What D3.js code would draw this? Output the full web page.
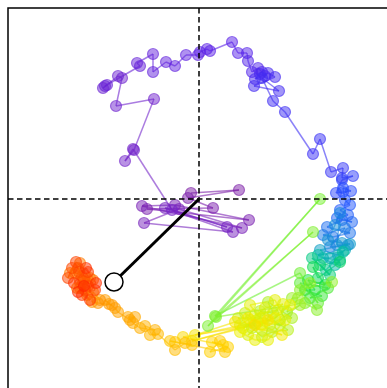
<!DOCTYPE html>
<html>
<head>
<meta charset="utf-8">
<script src="https://cdn.jsdelivr.net/npm/d3@7"></script>
<style>
  html, body { margin: 0; padding: 0; background: #ffffff; }
  svg { display: block; }
</style>
</head>
<body>
<svg id="chart" width="387" height="388"></svg>
<script>
// ---- data (state-space trajectory, in time order) ----
const stateX = [
 -0.08, 0.40,-0.11, 0.14,-0.52, 0.50,-0.24,-0.57, 0.43,-0.20,-0.55, 0.34,-0.34, 0.28,-0.27,
 -0.66,-0.74,-0.65,-0.45,-0.83,-0.77,-0.81,-0.96,-0.92,-0.94,-0.59,-0.62,-0.46,-0.46,-0.33,
 -0.24,-0.13,-0.01, 0.01, 0.08, 0.11, 0.33, 0.39, 0.48, 0.49, 0.53, 0.59, 0.63, 0.66, 0.61,
  0.56, 0.69, 0.76, 0.55, 0.80, 0.63, 0.74, 0.86, 1.14, 1.21, 1.32, 1.44, 1.43, 1.54, 1.43,
  1.37, 1.44, 1.52, 1.44, 1.46, 1.51, 1.41, 1.49, 1.38, 1.53, 1.43, 1.28, 1.51, 1.34, 1.24,
  1.46, 1.31, 1.49, 1.38, 1.41, 1.36, 1.29, 1.43, 1.51, 1.21, 1.39, 1.46, 1.31, 1.24, 1.41,
  1.36, 1.19, 1.44, 1.27, 1.13, 1.31, 1.21, 1.41, 1.19, 1.14, 1.26, 1.09, 1.16,
  1.06, 1.23, 1.11, 1.29, 1.01, 1.19,
  1.01, 0.16, 1.21, 0.09, 1.14, 0.17, 1.06, 1.18, 1.01, 1.33, 1.11, 0.99, 0.93, 0.88, 1.01,
  0.81, 0.93, 0.69, 0.74, 0.61, 0.89, 0.73, 0.63, 0.53, 0.46, 0.59, 0.81, 0.66, 0.39, 0.51,
  0.71, 0.63, 0.41, 0.56, 0.79, 0.49, 0.84, 0.66, 0.44, 0.61,
  0.51, 0.76, 0.86, 0.69, 0.56, 0.41, 0.76, 0.91, 0.63, 0.49, 0.83, 0.36,
 -0.04, 0.69,-0.07, 0.56,-0.16, 0.24, 0.13, 0.29, 0.11, 0.21, 0.26,-0.24,-0.29,-0.07,-0.14,
 -0.24,-0.41,-0.49,-0.54,-0.44,-0.59,-0.66,-0.71,-0.64,-0.69,-0.81,
 -0.84,-0.94,-0.90,
 -0.87,-1.01,-1.07,-1.06,-0.99,-1.12,-1.19,-1.22,-1.09,-1.24,-1.29,-1.19,-1.16,-1.06,-1.17,
 -1.21,-1.13,-1.19,-1.14,-1.15,-1.11,-1.20,
 -1.27,-1.31,-1.23,-1.11,-1.04,-1.17,-1.09,-1.25,-1.13,-1.03,-1.21,-1.15
];
const stateY = [
  0.06, 0.09, 0.01,-0.09,-0.10,-0.21,-0.06,-0.07,-0.29,-0.10,-0.24,-0.33,-0.09,-0.28,-0.11,
  0.50, 0.38, 0.49, 1.00, 0.93, 1.21, 1.23, 1.11, 1.14, 1.13, 1.33, 1.36, 1.45, 1.27, 1.37,
  1.33, 1.44, 1.44, 1.47, 1.50, 1.48, 1.57, 1.46, 1.46, 1.38, 1.27, 1.31, 1.27, 1.23, 1.25,
  1.20, 1.26, 1.22, 1.13, 1.08, 1.21, 0.98, 0.87, 0.45, 0.60, 0.27, 0.31, 0.21, 0.23, 0.19,
  0.06, 0.07, 0.08, 0.11,-0.01,-0.06,-0.11,-0.16,-0.19,-0.23,-0.21,-0.28,-0.34,-0.38,-0.36,
 -0.29,-0.48,-0.46,-0.46,-0.14,-0.26,-0.41,-0.44,-0.45,-0.51,-0.56,-0.51,-0.59,-0.59,-0.61,
 -0.66,-0.56,-0.53,-0.71,-0.59,-0.76,-0.66,-0.63,-0.79,-0.68,-0.86,-0.81,-0.91,
 -0.91,-0.97,-0.99,-0.89,-0.84,-1.04,
 -0.74,-1.17, 0.00,-1.27,-0.33,-1.18,-1.04,-1.11,-0.91,-0.83,-0.84,-0.99,-0.99,-1.13,-1.06,
 -1.21,-1.19,-1.03,-1.14,-1.12,-1.31,-1.33,-1.38,-1.29,-1.14,-1.23,-1.26,-1.19,-1.19,-1.21,
 -1.26,-1.31,-1.26,-1.16,-1.11,-1.36,-1.05,-1.09,-1.29,-1.19,
 -1.06,-1.01,-1.21,-1.41,-1.41,-1.33,-1.19,-1.06,-1.26,-1.19,-1.36,-1.23,
 -1.36,-1.21,-1.42,-1.26,-1.38,-1.46,-1.43,-1.48,-1.53,-1.42,-1.53,-1.43,-1.42,-1.46,-1.44,
 -1.51,-1.35,-1.36,-1.27,-1.31,-1.29,-1.24,-1.18,-1.18,-1.21,-1.13,
 -1.09,-1.01,-1.05,
 -1.06,-1.04,-1.03,-0.93,-1.01,-0.96,-0.89,-0.89,-0.79,-0.74,-0.74,-0.64,-0.83,-0.81,-0.77,
 -0.69,-0.85,-0.81,-0.91,-0.80,-0.87,-0.73,
 -0.69,-0.79,-0.63,-0.73,-0.91,-0.96,-1.01,-0.84,-0.69,-0.84,-0.93,-0.87
];
const pointer = [-0.85, -0.83];
const axisLimit = [-1.91, 1.91];
const cmapStops  = [0.00, 0.065, 0.16, 0.24, 0.29, 0.36, 0.41, 0.45, 0.49, 0.60, 0.70, 0.75, 0.82, 0.89, 0.94, 1.00];
const cmapColors = ["#7d1fa6","#7626c8","#5a22e8","#3b30f5","#2255ff","#1890d8","#00c0a0","#10e040",
                    "#70f030","#c8f010","#f0f000","#ffd400","#ffaa00","#ff8800","#ff5000","#ff2800"];

// ---- drawing ----
const padL = 8, padT = 8, boxSize = 382;
const svg = d3.select("#chart");

const x = d3.scaleLinear().domain(axisLimit).range([padL, padL + boxSize]);
const y = d3.scaleLinear().domain(axisLimit).range([padT + boxSize, padT]);
const color = d3.scaleLinear().domain(cmapStops).range(cmapColors).interpolate(d3.interpolateRgb);

const n = stateX.length;
const pts = stateX.map((v, i) => ({ x: v, y: stateY[i], t: i / (n - 1) }));

const plot = svg.append("g");
plot.append("defs").append("clipPath").attr("id", "clip")
  .append("rect").attr("x", padL).attr("y", padT).attr("width", boxSize).attr("height", boxSize);

const g = plot.append("g").attr("clip-path", "url(#clip)");

// trajectory segments
const segs = d3.pairs(pts);
g.append("g").selectAll("line").data(segs).join("line")
  .attr("x1", d => x(d[0].x)).attr("y1", d => y(d[0].y))
  .attr("x2", d => x(d[1].x)).attr("y2", d => y(d[1].y))
  .attr("stroke", d => color(d[0].t))
  .attr("stroke-width", 1.5)
  .attr("stroke-opacity", 0.6);

// points
g.append("g").selectAll("circle").data(pts).join("circle")
  .attr("cx", d => x(d.x)).attr("cy", d => y(d.y))
  .attr("r", 5.5)
  .attr("fill", d => color(d.t))
  .attr("fill-opacity", 0.5)
  .attr("stroke", d => color(d.t))
  .attr("stroke-opacity", 0.6)
  .attr("stroke-width", 1.2);

// crosshair dashed lines at zero
g.append("line")
  .attr("x1", x(0)).attr("x2", x(0)).attr("y1", y(axisLimit[1])).attr("y2", y(axisLimit[0]))
  .attr("stroke", "#000").attr("stroke-width", 1.5).attr("stroke-dasharray", "5.5,3.5");
g.append("line")
  .attr("y1", y(0)).attr("y2", y(0)).attr("x1", x(axisLimit[0])).attr("x2", x(axisLimit[1]))
  .attr("stroke", "#000").attr("stroke-width", 1.5).attr("stroke-dasharray", "5.5,3.5");

// pointer vector
g.append("line")
  .attr("x1", x(0)).attr("y1", y(0))
  .attr("x2", x(pointer[0])).attr("y2", y(pointer[1]))
  .attr("stroke", "#000").attr("stroke-width", 3);
g.append("circle")
  .attr("cx", x(pointer[0])).attr("cy", y(pointer[1]))
  .attr("r", 9).attr("fill", "#fff").attr("stroke", "#000").attr("stroke-width", 1.5);

// frame
plot.append("rect")
  .attr("x", padL).attr("y", padT).attr("width", boxSize).attr("height", boxSize)
  .attr("fill", "none").attr("stroke", "#000").attr("stroke-width", 1.5);
</script>
</body>
</html>
